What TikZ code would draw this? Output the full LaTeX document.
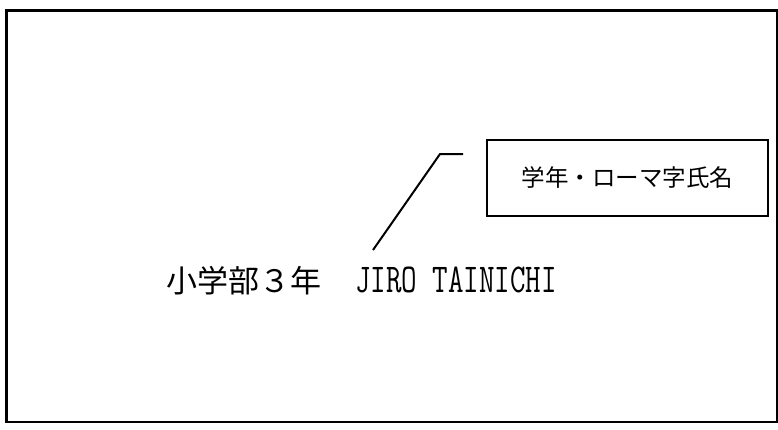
\documentclass[tikz,border=0pt]{standalone}
\usepackage{graphicx}
\usepackage{fontspec}
\newfontfamily\cjk{Noto Sans CJK JP}
\begin{document}
\begin{tikzpicture}[x=1pt,y=-1pt,
  frameline/.style={draw=black, line width=2.3pt},
  labelbox/.style={draw=black, line width=2.2pt, inner sep=0pt, minimum width=281pt, minimum height=76pt, font=\cjk\fontsize{23.5}{23.5}\selectfont},
  leader/.style={draw=black, line width=2pt},
  bigtext/.style={anchor=base west, inner sep=0pt}]
\useasboundingbox (0,0) rectangle (778,429);
\draw[frameline] (6.5,10.5) rectangle (777.5,422);
\node[labelbox] (lbl) at (627.5,178) {学年・ローマ字氏名};
\node[bigtext] (grade) at (166,292) {\cjk\fontsize{31}{31}\selectfont 小学部３年};
\node[bigtext] (name) at (355,292) {\scalebox{0.735}[1]{\ttfamily\fontsize{41}{41}\selectfont JIRO TAINICHI}};
\coordinate (lead) at (373,250);
\coordinate (bend) at (440,154);
\coordinate (tip) at (463,154);
\draw[leader] (lead) -- (bend) -- (tip);
\end{tikzpicture}
\end{document}
